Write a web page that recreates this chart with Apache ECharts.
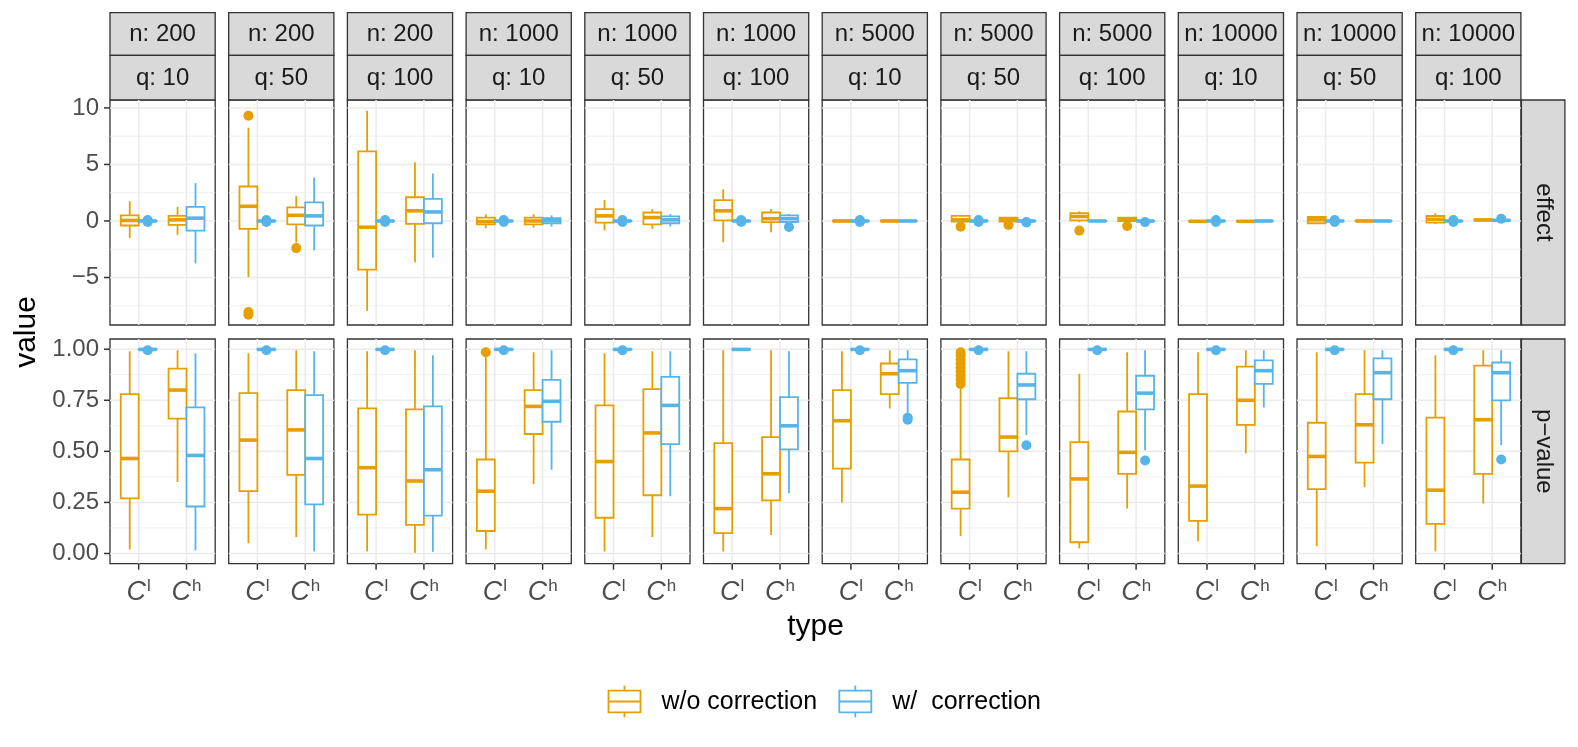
<!DOCTYPE html>
<html><head><meta charset="utf-8">
<script src="https://cdn.jsdelivr.net/npm/echarts@6/dist/echarts.min.js"></script>
<style>html,body{margin:0;padding:0;background:#fff}#c{width:1578px;height:747px}</style>
</head><body><div id="c"></div>
<script>
// ---------- data ----------
const nLabels = ['n: 200','n: 200','n: 200','n: 1000','n: 1000','n: 1000','n: 5000','n: 5000','n: 5000','n: 10000','n: 10000','n: 10000'];
const qLabels = ['q: 10','q: 50','q: 100','q: 10','q: 50','q: 100','q: 10','q: 50','q: 100','q: 10','q: 50','q: 100'];
const rowLabels = ['effect','p\u2212value'];
const typeBase = ['C','C'];
const typeSup = ['l','h'];
const groupNames = ['w/o correction','w/  correction'];
const xTitle = 'type';
const yTitle = 'value';
const effectTicks = [-5,0,5,10];
const effectMinor = [-7.5,-2.5,2.5,7.5];
const pTicks = [0,0.25,0.5,0.75,1];
const pMinor = [0.125,0.375,0.625,0.875];

// [low, q1, median, q3, high] for [C^l, C^h], one entry per panel
const effectWithout = [
 [[-1.5,-0.4,0.05,0.5,1.75],[-1.25,-0.35,0.1,0.45,1.25]],
 [[-4.95,-0.7,1.3,3.05,8.25],[-1.9,-0.3,0.5,1.2,2.2]],
 [[-7.95,-4.3,-0.55,6.15,9.75],[-3.65,-0.25,0.9,2.1,5.2]],
 [[-0.65,-0.3,-0.05,0.3,0.6],[-0.6,-0.3,0.0,0.3,0.6]],
 [[-0.85,-0.15,0.45,1.05,1.85],[-0.7,-0.3,0.3,0.75,1.05]],
 [[-1.9,0.05,0.9,1.85,2.8],[-1.0,-0.1,0.2,0.75,1.05]],
 [[-0.08,-0.03,0.0,0.03,0.08],[-0.08,-0.03,0.0,0.03,0.08]],
 [[-0.2,-0.05,0.1,0.45,0.55],[-0.15,-0.05,0.1,0.3,0.35]],
 [[-0.1,0.05,0.4,0.7,0.85],[-0.1,0.0,0.15,0.3,0.35]],
 [[-0.1,-0.06,-0.03,0.0,0.05],[-0.1,-0.06,-0.03,0.0,0.05]],
 [[-0.25,-0.2,0.1,0.35,0.42],[-0.08,-0.03,0.0,0.03,0.08]],
 [[-0.26,-0.15,0.15,0.44,0.68],[0.0,0.05,0.09,0.13,0.18]]
];
const effectWithoutOut = [
 [[],[]],[[9.3,-8.05,-8.3],[-2.4]],[[],[]],[[],[]],[[],[]],[[],[]],
 [[],[]],[[-0.5],[-0.35]],[[-0.85],[-0.45]],[[],[]],[[],[]],[[],[]]
];
const effectWith = [
 [[-0.05,-0.02,0,0.02,0.05],[-3.75,-0.85,0.25,1.25,3.35]],
 [[-0.05,-0.02,0,0.02,0.05],[-2.6,-0.4,0.45,1.65,3.85]],
 [[-0.05,-0.02,0,0.02,0.05],[-3.25,-0.2,0.8,1.95,4.2]],
 [[-0.05,-0.02,0,0.02,0.05],[-0.5,-0.2,0.05,0.25,0.5]],
 [[-0.05,-0.02,0,0.02,0.05],[-0.5,-0.2,0.1,0.4,0.6]],
 [[-0.05,-0.02,0,0.02,0.05],[-0.15,-0.09,0.2,0.5,0.62]],
 [[-0.05,-0.02,0,0.02,0.05],[-0.05,-0.02,0,0.02,0.05]],
 [[-0.05,-0.02,0,0.02,0.05],[-0.05,-0.02,0,0.02,0.05]],
 [[-0.04,-0.01,0,0.01,0.04],[-0.05,-0.02,0,0.02,0.05]],
 [[-0.05,-0.02,0,0.02,0.05],[-0.05,-0.02,0,0.02,0.05]],
 [[-0.05,-0.02,0,0.02,0.05],[-0.04,-0.01,0,0.01,0.04]],
 [[-0.05,-0.02,0,0.02,0.05],[0.02,0.04,0.06,0.08,0.1]]
];
const effectWithOut = [
 [[0.08,-0.08],[]],[[0.08,-0.08],[]],[[0.08,-0.08],[]],[[0.08,-0.08],[]],
 [[0.08,-0.08],[]],[[0.08,-0.08],[-0.53]],[[0.08,-0.08],[]],[[0.08,-0.08],[-0.1,-0.14]],
 [[],[-0.1]],[[0.08,-0.08],[]],[[0.08,-0.08],[]],[[0.08,-0.08],[0.2]]
];
const pWithout = [
 [[0.02,0.27,0.465,0.78,0.99],[0.35,0.66,0.8,0.905,0.995]],
 [[0.05,0.305,0.555,0.785,0.98],[0.08,0.385,0.605,0.8,0.995]],
 [[0.01,0.19,0.42,0.71,0.99],[0.003,0.14,0.355,0.705,0.995]],
 [[0.02,0.11,0.305,0.46,0.965],[0.34,0.585,0.72,0.8,0.985]],
 [[0.01,0.175,0.45,0.725,0.98],[0.08,0.285,0.59,0.805,0.99]],
 [[0.01,0.1,0.22,0.54,0.995],[0.09,0.26,0.39,0.57,0.995]],
 [[0.25,0.415,0.65,0.8,0.99],[0.71,0.78,0.88,0.93,0.995]],
 [[0.085,0.22,0.3,0.46,0.81],[0.275,0.5,0.57,0.76,0.99]],
 [[0.025,0.055,0.365,0.545,0.88],[0.22,0.39,0.495,0.695,0.985]],
 [[0.06,0.16,0.33,0.78,0.985],[0.49,0.63,0.75,0.915,0.995]],
 [[0.035,0.315,0.475,0.64,0.985],[0.325,0.445,0.63,0.78,0.995]],
 [[0.01,0.145,0.31,0.665,0.97],[0.245,0.39,0.655,0.92,0.995]]
];
const pWithoutOut = [
 [[],[]],[[],[]],[[],[]],[[0.985],[]],[[],[]],[[],[]],
 [[],[]],[[0.83,0.85,0.87,0.89,0.91,0.93,0.95,0.97,0.985],[]],[[],[]],[[],[]],[[],[]],[[],[]]
];
const pWith = [
 [[0.997,0.998,0.999,1,1],[0.015,0.23,0.48,0.715,0.98]],
 [[0.997,0.998,0.999,1,1],[0.01,0.24,0.465,0.775,0.99]],
 [[0.997,0.998,0.999,1,1],[0.008,0.185,0.41,0.72,0.97]],
 [[0.997,0.998,0.999,1,1],[0.41,0.645,0.745,0.85,0.995]],
 [[0.997,0.998,0.999,1,1],[0.28,0.535,0.725,0.865,0.99]],
 [[0.997,0.998,0.999,1,1],[0.295,0.51,0.625,0.765,0.99]],
 [[0.997,0.998,0.999,1,1],[0.685,0.835,0.895,0.95,0.995]],
 [[0.997,0.998,0.999,1,1],[0.58,0.755,0.825,0.88,0.99]],
 [[0.997,0.998,0.999,1,1],[0.505,0.705,0.785,0.87,0.995]],
 [[0.997,0.998,0.999,1,1],[0.715,0.83,0.895,0.945,0.995]],
 [[0.997,0.998,0.999,1,1],[0.535,0.755,0.885,0.955,0.995]],
 [[0.997,0.998,0.999,1,1],[0.53,0.75,0.885,0.935,0.995]]
];
const pWithOut = [
 [[0.995],[]],[[0.995],[]],[[0.995],[]],[[0.995],[]],[[0.995],[]],[[],[]],
 [[0.995],[0.655,0.665]],[[0.995],[0.53]],[[0.995],[0.455]],[[0.995],[]],[[0.995],[]],[[0.995],[0.46]]
];

// ---------- styling / layout ----------
const FONT = "'Liberation Sans', Arial, Helvetica, sans-serif";
const COLORS = ['#E69F00', '#56B4E9'];
const BOXW = 0.375;
const OFFS = [-0.1875, 0.1875];
const TICKLEN = 6;
const L0 = 110, STEP = 118.7, PW = 105.2;
const ROWS = [{top: 100, h: 225, min: -9.2, max: 10.7, ticks: effectTicks, minor: effectMinor,
               fmt: v => v < 0 ? '\u2212' + Math.abs(v) : String(v),
               sets: [[effectWithout, effectWithoutOut], [effectWith, effectWithOut]]},
              {top: 339, h: 224.7, min: -0.05, max: 1.05, ticks: pTicks, minor: pMinor,
               fmt: v => v.toFixed(2),
               sets: [[pWithout, pWithoutOut], [pWith, pWithOut]]}];

function boxRender(off, color) {
  return function (params, api) {
    const x = api.value(0) + off;
    const lo = api.coord([x, api.value(1)]);
    const q1 = api.coord([x, api.value(2)]);
    const md = api.coord([x, api.value(3)]);
    const q3 = api.coord([x, api.value(4)]);
    const hi = api.coord([x, api.value(5)]);
    const hw = api.size([BOXW, 0])[0] / 2;
    const ls = {stroke: color, lineWidth: 1.8};
    return {type: 'group', children: [
      {type: 'line', shape: {x1: lo[0], y1: lo[1], x2: q1[0], y2: q1[1]}, style: ls},
      {type: 'line', shape: {x1: q3[0], y1: q3[1], x2: hi[0], y2: hi[1]}, style: ls},
      {type: 'rect', shape: {x: q3[0] - hw, y: q3[1], width: 2 * hw, height: Math.max(q1[1] - q3[1], 0.1)},
       style: {fill: '#fff', stroke: color, lineWidth: 1.8}},
      {type: 'line', shape: {x1: md[0] - hw, y1: md[1], x2: md[0] + hw, y2: md[1]}, style: {stroke: color, lineWidth: 3.6}}
    ]};
  };
}
// panel grid lines plus outer tick marks (left column / bottom row only)
function gridRender(major, minor, leftTicks, bottomTicks) {
  return function (params, api) {
    const cs = params.coordSys;
    const ch = [];
    const tickStyle = {stroke: '#333333', lineWidth: 1.5};
    minor.forEach(v => { const p = api.coord([1, v]);
      ch.push({type: 'line', shape: {x1: cs.x, y1: p[1], x2: cs.x + cs.width, y2: p[1]}, style: {stroke: '#EBEBEB', lineWidth: 0.8}}); });
    major.forEach(v => { const p = api.coord([1, v]);
      ch.push({type: 'line', shape: {x1: cs.x, y1: p[1], x2: cs.x + cs.width, y2: p[1]}, style: {stroke: '#EBEBEB', lineWidth: 1.5}});
      if (leftTicks) ch.push({type: 'line', shape: {x1: cs.x - TICKLEN, y1: p[1], x2: cs.x, y2: p[1]}, style: tickStyle}); });
    [1, 2].forEach(v => { const p = api.coord([v, 0]);
      ch.push({type: 'line', shape: {x1: p[0], y1: cs.y, x2: p[0], y2: cs.y + cs.height}, style: {stroke: '#EBEBEB', lineWidth: 1.5}});
      if (bottomTicks) ch.push({type: 'line', shape: {x1: p[0], y1: cs.y + cs.height, x2: p[0], y2: cs.y + cs.height + TICKLEN}, style: tickStyle}); });
    return {type: 'group', children: ch};
  };
}

const grids = [], xAxes = [], yAxes = [], series = [], graphics = [];
ROWS.forEach((row, r) => {
  for (let c = 0; c < nLabels.length; c++) {
    const gi = grids.length;
    grids.push({left: L0 + c * STEP, top: row.top, width: PW, height: row.h, show: true,
      borderColor: '#333333', borderWidth: 1.3, backgroundColor: '#fff', containLabel: false, outerBoundsMode: 'none'});
    const bottom = r === ROWS.length - 1;
    const first = c === 0;
    xAxes.push({type: 'value', gridIndex: gi, min: 0.4, max: 2.6, position: 'bottom',
      axisLine: {show: false, onZero: false}, splitLine: {show: false}, axisTick: {show: false},
      axisLabel: {show: bottom, customValues: [1, 2], margin: 14,
        formatter: v => { const k = Math.round(v) - 1; return '{c|' + typeBase[k] + '}{s|' + typeSup[k] + '}'; },
        rich: {c: {fontFamily: FONT, fontStyle: 'italic', fontSize: 27, color: '#4D4D4D', lineHeight: 30},
               s: {fontFamily: FONT, fontSize: 17, color: '#4D4D4D', verticalAlign: 'top', lineHeight: 14, padding: [0, 0, 0, 1]}}}});
    yAxes.push({type: 'value', gridIndex: gi, min: row.min, max: row.max, position: 'left',
      axisLine: {show: false, onZero: false}, splitLine: {show: false}, axisTick: {show: false},
      axisLabel: {show: first, customValues: row.ticks, margin: 11, formatter: row.fmt,
        fontFamily: FONT, fontSize: 24, color: '#4D4D4D'}});
    series.push({type: 'custom', xAxisIndex: gi, yAxisIndex: gi, z: 1, silent: true, clip: false,
      renderItem: gridRender(row.ticks, row.minor, first, bottom), data: [[1.5, row.ticks[1]]], encode: {x: 0, y: 1}});
    row.sets.forEach((set, g) => {
      const boxes = set[0][c], outs = set[1][c];
      series.push({type: 'custom', name: groupNames[g], xAxisIndex: gi, yAxisIndex: gi, z: 3, silent: true,
        renderItem: boxRender(OFFS[g], COLORS[g]),
        data: boxes.map((b, t) => [t + 1].concat(b)), encode: {x: 0, y: [1, 2, 3, 4, 5]}});
      const pts = [];
      outs.forEach((vals, t) => vals.forEach(v => pts.push([t + 1 + OFFS[g], v])));
      series.push({type: 'scatter', name: groupNames[g], xAxisIndex: gi, yAxisIndex: gi, z: 2, silent: true,
        symbol: 'circle', symbolSize: 10, itemStyle: {color: COLORS[g], opacity: 1}, data: pts});
    });
  }
  // right strip
  graphics.push({type: 'rect', shape: {x: L0 + 11 * STEP + PW + 0.5, y: row.top, width: 43.5, height: row.h},
    style: {fill: '#D9D9D9', stroke: '#333333', lineWidth: 1.3}});
  graphics.push({type: 'text', x: L0 + 11 * STEP + PW + 22.5, y: row.top + row.h / 2, rotation: -Math.PI / 2,
    style: {text: rowLabels[r], font: '24px ' + FONT, fill: '#1A1A1A', align: 'center', verticalAlign: 'middle'}});
});
// top strips
for (let c = 0; c < nLabels.length; c++) {
  const x = L0 + c * STEP;
  graphics.push({type: 'rect', shape: {x: x, y: 12.7, width: PW, height: 42.6}, style: {fill: '#D9D9D9', stroke: '#333333', lineWidth: 1.3}});
  graphics.push({type: 'rect', shape: {x: x, y: 55.3, width: PW, height: 44.5}, style: {fill: '#D9D9D9', stroke: '#333333', lineWidth: 1.3}});
  graphics.push({type: 'text', x: x + PW / 2, y: 34.5, style: {text: nLabels[c], font: '24px ' + FONT, fill: '#1A1A1A', align: 'center', verticalAlign: 'middle'}});
  graphics.push({type: 'text', x: x + PW / 2, y: 78, style: {text: qLabels[c], font: '24px ' + FONT, fill: '#1A1A1A', align: 'center', verticalAlign: 'middle'}});
}
// axis titles
graphics.push({type: 'text', x: 815.5, y: 627, style: {text: xTitle, font: '30px ' + FONT, fill: '#000', align: 'center', verticalAlign: 'middle'}});
graphics.push({type: 'text', x: 27, y: 332, rotation: Math.PI / 2, style: {text: yTitle, font: '30px ' + FONT, fill: '#000', align: 'center', verticalAlign: 'middle'}});
// legend
const legX = [608.5, 839.3];
groupNames.forEach((name, g) => {
  const x = legX[g], col = COLORS[g];
  graphics.push({type: 'line', shape: {x1: x + 16, y1: 685.7, x2: x + 16, y2: 717.3}, style: {stroke: col, lineWidth: 1.8}});
  graphics.push({type: 'rect', shape: {x: x, y: 690.7, width: 32, height: 21.6}, style: {fill: '#fff', stroke: col, lineWidth: 1.8}});
  graphics.push({type: 'line', shape: {x1: x, y1: 701.5, x2: x + 32, y2: 701.5}, style: {stroke: col, lineWidth: 1.8}});
  graphics.push({type: 'text', x: x + 53, y: 702, style: {text: name, font: '25px ' + FONT, fill: '#000', align: 'left', verticalAlign: 'middle'}});
});

const chart = echarts.init(document.getElementById('c'), null, {renderer: 'canvas'});
chart.setOption({animation: false, backgroundColor: '#fff', grid: grids, xAxis: xAxes, yAxis: yAxes, series: series, graphic: graphics});
</script></body></html>
